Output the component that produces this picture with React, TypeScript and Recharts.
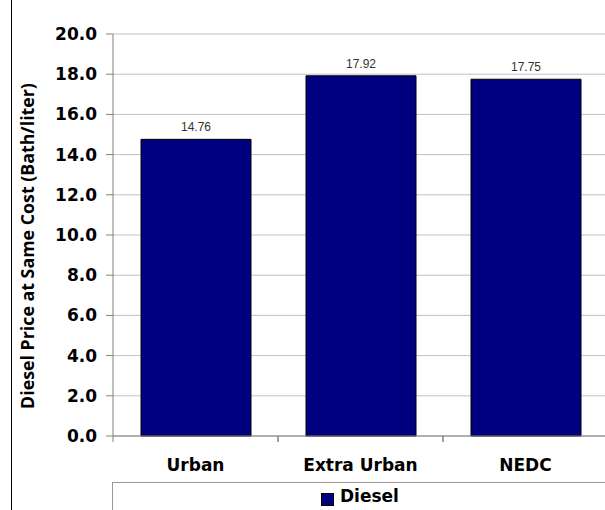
import { BarChart, Bar, XAxis, YAxis, CartesianGrid, LabelList, Legend } from 'recharts'

const categories = ['Urban', 'Extra Urban', 'NEDC']
const diesel = [14.76, 17.92, 17.75]
const yTicks = [0, 2, 4, 6, 8, 10, 12, 14, 16, 18, 20]

const data = categories.map((name, i) => ({ name, diesel: diesel[i] }))

const FONT = '"DejaVu Sans", Verdana, sans-serif'

function XTick(props: any) {
  const { x, y, payload } = props
  const half = payload.offset ?? 82.5
  return (
    <g>
      <line x1={x - half} y1={y - 8} x2={x - half} y2={y - 2} stroke="#808080" />
      <line x1={x + half} y1={y - 8} x2={x + half} y2={y - 2} stroke="#808080" />
      <text x={x} y={y + 27} textAnchor="middle" fontFamily={FONT} fontWeight="bold" fontSize={17} fill="#000">
        {payload.value}
      </text>
    </g>
  )
}

function YLabel() {
  return (
    <text
      x={34}
      y={246}
      transform="rotate(-90 34 246)"
      textAnchor="middle"
      fontFamily='"Open Sans", "Liberation Sans", Arial, sans-serif'
      fontWeight="bold"
      fontSize={17.8}
      fill="#000"
    >
      Diesel Price at Same Cost (Bath/liter)
    </text>
  )
}

function LegendBox() {
  return (
    <div
      style={{
        width: 500,
        height: 40,
        borderTop: '1px solid #999',
        borderLeft: '1px solid #999',
        boxSizing: 'border-box',
        position: 'relative',
      }}
    >
      <div
        style={{
          position: 'absolute',
          left: 208,
          top: 10,
          width: 11,
          height: 11,
          background: '#000080',
          border: '1px solid #000',
        }}
      />
      <span
        style={{
          position: 'absolute',
          left: 227,
          top: 3,
          fontFamily: FONT,
          fontWeight: 'bold',
          fontSize: 17,
          color: '#000',
        }}
      >
        Diesel
      </span>
    </div>
  )
}

export default function App() {
  return (
    <div style={{ position: 'absolute', left: 0, top: 0, width: 605, height: 510, overflow: 'hidden', background: '#fff' }}>
      <div style={{ position: 'absolute', left: 11, top: 0, width: 1, height: 510, background: '#000' }} />
      <BarChart
        width={610}
        height={510}
        data={data}
        margin={{ top: 34, right: 2, bottom: 0, left: 0 }}
        barSize={110}
      >
        <CartesianGrid horizontal vertical={false} stroke="#c0c0c0" />
        <XAxis
          dataKey="name"
          height={74}
          axisLine={{ stroke: '#808080' }}
          tickLine={false}
          tick={<XTick />}
          interval={0}
        />
        <YAxis
          width={113}
          domain={[0, 20]}
          ticks={yTicks}
          interval={0}
          tickFormatter={(v: number) => v.toFixed(1)}
          axisLine={{ stroke: '#808080' }}
          tickLine={{ stroke: '#808080' }}
          tickSize={7}
          tickMargin={9}
          tick={{ fontFamily: FONT, fontWeight: 'bold', fontSize: 17, fill: '#000' }}
          label={<YLabel />}
        />
        <Legend
          layout="horizontal"
          verticalAlign="middle"
          align="center"
          content={<LegendBox />}
          wrapperStyle={{ position: 'absolute', left: 112, top: 482, width: 500 }}
        />
        <Bar dataKey="diesel" name="Diesel" fill="#000080" stroke="#000" strokeWidth={1} isAnimationActive={false}>
          <LabelList
            dataKey="diesel"
            position="top"
            offset={8}
            formatter={(v: any) => Number(v).toFixed(2)}
            style={{ fontFamily: '"Liberation Sans", Arial, sans-serif', fontSize: 12, fill: '#333' }}
          />
        </Bar>
      </BarChart>
    </div>
  )
}
